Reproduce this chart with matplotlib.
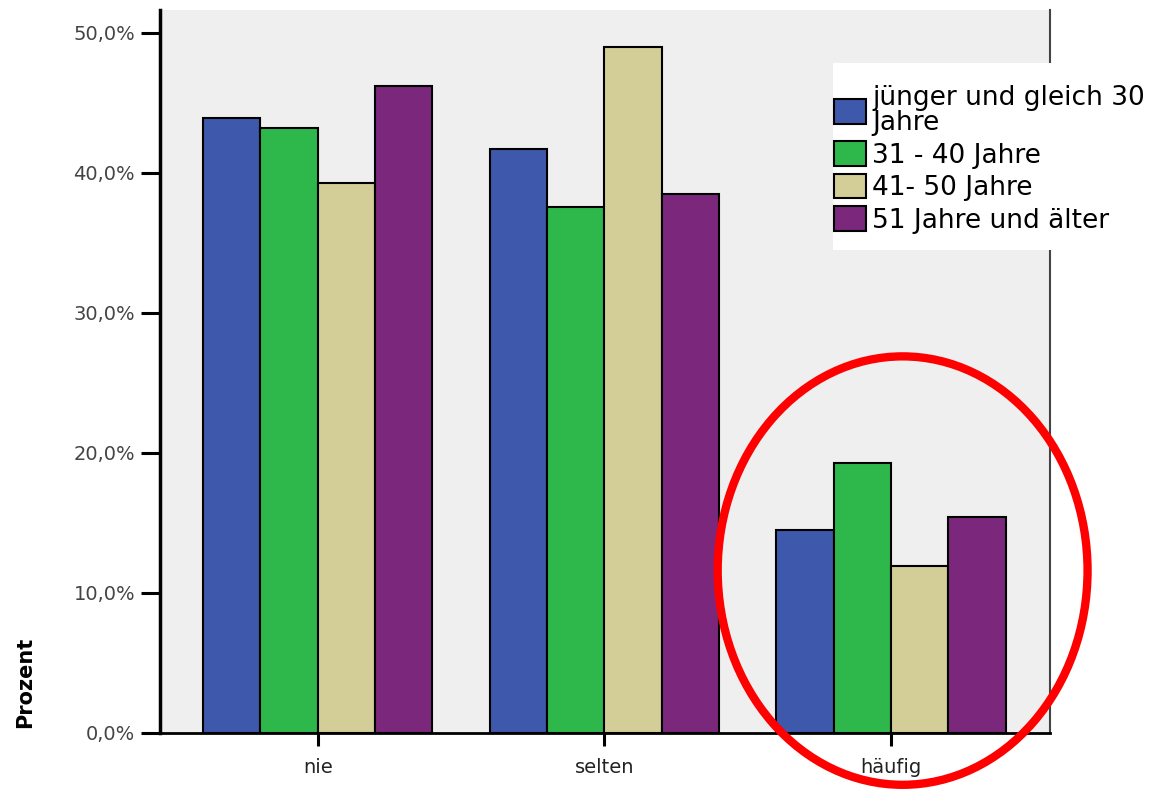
import numpy as np
import matplotlib
matplotlib.use('Agg')
import matplotlib.pyplot as plt
from matplotlib.patches import Ellipse, Rectangle
from matplotlib.ticker import FuncFormatter

plt.rcParams['font.family'] = ['DejaVu Sans']

# categories and age groups
categories = ['nie', 'selten', 'häufig']
groups = ['jünger und gleich 30\nJahre', '31 - 40 Jahre', '41- 50 Jahre', '51 Jahre und älter']
colors = ['#3E58AB', '#2EB84B', '#D3CE98', '#7B277B']

# percentages per age group (nie, selten, häufig)
u30 = [43.9, 41.7, 14.5]
a31_40 = [43.2, 37.6, 19.3]
a41_50 = [39.3, 49.0, 11.9]
ue51 = [46.2, 38.5, 15.4]
series = [u30, a31_40, a41_50, ue51]

W, H = 1159, 789
fig = plt.figure(figsize=(W / 100, H / 100), dpi=100)
ax = fig.add_axes([160/W, 56/H, 890/W, 723/H])
ax.set_facecolor('#EFEFEF')

x = np.arange(len(categories))
w = 0.2
bars = []
for i, (vals, col) in enumerate(zip(series, colors)):
    b = ax.bar(x + (i - 1.5) * w, vals, w, color=col, edgecolor='black', linewidth=1.5, zorder=2)
    bars.append(b)

ax.set_xlim(-0.55, 2.554)
ax.set_ylim(0, 51.64)
ax.set_yticks([0, 10, 20, 30, 40, 50])
ax.yaxis.set_major_formatter(FuncFormatter(lambda v, p: f'{v:.1f}%'.replace('.', ',')))
ax.set_xticks(x)
ax.set_xticklabels(categories)
ax.tick_params(axis='y', length=14, width=2.2, labelsize=14, labelcolor='#444444', pad=4)
ax.tick_params(axis='x', length=9, width=2.2, labelsize=14, labelcolor='#222222', pad=9)

ax.spines['top'].set_visible(False)
ax.spines['left'].set_linewidth(2.5)
ax.spines['bottom'].set_linewidth(2)
ax.spines['right'].set_color('#444444')
ax.spines['right'].set_linewidth(1.5)

fig.text(25/W, 1 - 682/H, 'Prozent', rotation=90, fontsize=15, fontweight='bold',
         ha='center', va='center')

# white legend box (extends past the plot area like the original)
fig.add_artist(Rectangle((833/W, 1 - 250/H), (W - 833)/W, 187/H, transform=fig.transFigure,
                         facecolor='white', edgecolor='none', zorder=4))

leg = fig.legend([b[0] for b in bars], groups, loc='upper left',
                 bbox_to_anchor=(834/W, 1 - 85/H), bbox_transform=fig.transFigure,
                 frameon=False, fontsize=19, handlelength=1.2, handleheight=1.05,
                 handletextpad=0.25, labelspacing=0.2, borderpad=0, borderaxespad=0)
leg.set_zorder(5)
for t in leg.get_texts():
    t.set_linespacing(0.95)

# red highlight around 'häufig'
ell = Ellipse((2.04, 11.6), 1.29, 30.6, fill=False, edgecolor='#FF0000', linewidth=6,
              clip_on=False, zorder=6)
ax.add_patch(ell)

fig.savefig('out.png', dpi=100)
